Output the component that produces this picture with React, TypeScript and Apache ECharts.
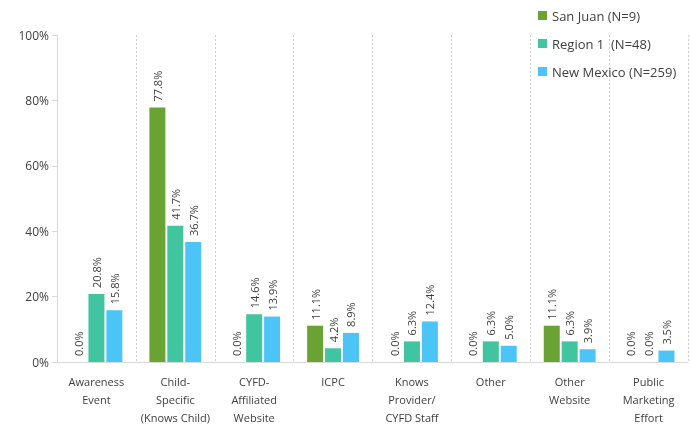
import React, { useEffect, useRef } from "react";
import * as echarts from "echarts";

const categories = [
  "Awareness\nEvent",
  "Child-\nSpecific\n(Knows Child)",
  "CYFD-\nAffiliated\nWebsite",
  "ICPC",
  "Knows\nProvider/\nCYFD Staff",
  "Other",
  "Other\nWebsite",
  "Public\nMarketing\nEffort",
];
const seriesNames = ["San Juan (N=9)", "Region 1  (N=48)", "New Mexico (N=259)"];
const sanJuan = [0.0, 77.8, 0.0, 11.1, 0.0, 0.0, 11.1, 0.0];
const region1 = [20.8, 41.7, 14.6, 4.2, 6.3, 6.3, 6.3, 0.0];
const newMexico = [15.8, 36.7, 13.9, 8.9, 12.4, 5.0, 3.9, 3.5];
const colors = ["#6AA334", "#40C5A0", "#4DC4F6"];

const FONT = "'Open Sans', 'Liberation Sans', sans-serif";

export default function App() {
  const ref = useRef<HTMLDivElement>(null);
  useEffect(() => {
    if (!ref.current) return;
    const chart = echarts.init(ref.current, null, { renderer: "svg" });
    const data = [sanJuan, region1, newMexico];
    chart.setOption({
      animation: false,
      textStyle: { fontFamily: FONT },
      legend: {
        orient: "vertical",
        left: 533,
        top: 4,
        itemGap: 15,
        itemWidth: 9,
        itemHeight: 9,
        icon: "rect",
        textStyle: { fontSize: 13, color: "#404040", fontFamily: FONT },
        data: seriesNames,
      },
      grid: { left: 57, right: 2, top: 35, bottom: 60, containLabel: false },
      xAxis: {
        type: "category",
        data: categories,
        axisLine: { lineStyle: { color: "#d9d9d9" } },
        axisTick: { show: false },
        splitLine: { show: true, lineStyle: { color: "#d0d0d0", type: [2, 2] } },
        axisLabel: {
          interval: 0,
          color: "#404040",
          fontSize: 11,
          lineHeight: 18,
          margin: 10,
          fontFamily: FONT,
        },
      },
      yAxis: {
        type: "value",
        min: 0,
        max: 100,
        interval: 20,
        axisLine: { show: true, lineStyle: { color: "#d9d9d9" } },
        axisTick: { show: true, inside: false, length: 5, lineStyle: { color: "#d9d9d9" } },
        splitLine: { show: false },
        axisLabel: {
          formatter: "{value}%",
          color: "#404040",
          fontSize: 12,
          margin: 8,
          fontFamily: FONT,
        },
      },
      series: seriesNames.map((name, i) => ({
        name,
        type: "bar",
        data: data[i],
        barWidth: 16,
        barGap: "12%",
        itemStyle: { color: colors[i] },
        label: {
          show: true,
          position: "top",
          rotate: 90,
          align: "left",
          verticalAlign: "middle",
          distance: 6,
          fontSize: 11,
          color: "#404040",
          fontFamily: FONT,
          formatter: (p: any) => Number(p.value).toFixed(1) + "%",
        },
      })),
    });
    return () => chart.dispose();
  }, []);
  return (
    <div
      ref={ref}
      style={{ position: "fixed", left: 0, top: 0, width: 690, height: 426 }}
    />
  );
}
